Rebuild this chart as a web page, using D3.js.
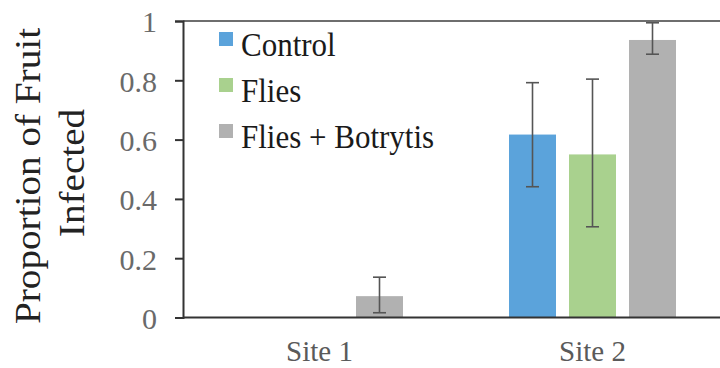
<!DOCTYPE html>
<html><head><meta charset="utf-8">
<script src="https://cdn.jsdelivr.net/npm/d3@7"></script>
<style>html,body{margin:0;padding:0;background:#fff;}svg{display:block;}
svg text{font-family:"Liberation Serif","Times New Roman",Times,"Nimbus Roman","DejaVu Serif",serif;}
</style>
</head><body>
<svg id="chart" width="720" height="368"></svg>
<script>
const sites = ["Site 1", "Site 2"];
const treatments = ["Control", "Flies", "Flies + Botrytis"];
const colors = ["#5ba3db", "#a9d18e", "#b1b1b1"];
const controlValues = [0, 0.617];
const fliesValues = [0, 0.550];
const botrytisValues = [0.072, 0.936];
const controlErrLow = [0, 0.441];
const controlErrHigh = [0, 0.792];
const fliesErrLow = [0, 0.306];
const fliesErrHigh = [0, 0.804];
const botrytisErrLow = [0.016, 0.888];
const botrytisErrHigh = [0.136, 0.994];
const yTicks = [0, 0.2, 0.4, 0.6, 0.8, 1];
const yTickLabels = ["0", "0.2", "0.4", "0.6", "0.8", "1"];

const values = [controlValues, fliesValues, botrytisValues];
const lows = [controlErrLow, fliesErrLow, botrytisErrLow];
const highs = [controlErrHigh, fliesErrHigh, botrytisErrHigh];

const svg = d3.select("#chart");
const x0 = 183, x1 = 729, yTop = 21, yBot = 317.5;
const x = d3.scaleBand().domain(sites).range([x0, x1]);
const y = d3.scaleLinear().domain([0, 1]).range([yBot, yTop]);
const barW = 47, gap = 13;
const offset = i => (i - 1) * (barW + gap);

const data = [];
sites.forEach((s, si) => treatments.forEach((t, ti) => {
  data.push({site: s, ti, v: values[ti][si], lo: lows[ti][si], hi: highs[ti][si]});
}));

// bars
svg.append("g").selectAll("rect").data(data.filter(d => d.v > 0)).join("rect")
  .attr("x", d => x(d.site) + x.bandwidth() / 2 + offset(d.ti) - barW / 2)
  .attr("y", d => y(d.v))
  .attr("width", barW)
  .attr("height", d => y(0) - y(d.v))
  .attr("fill", d => colors[d.ti]);

// error bars
const eb = svg.append("g").attr("stroke", "#555").attr("stroke-width", 1.6).attr("fill", "none");
data.filter(d => d.hi > 0).forEach(d => {
  const cx = x(d.site) + x.bandwidth() / 2 + offset(d.ti);
  eb.append("line").attr("x1", cx).attr("x2", cx).attr("y1", y(d.lo)).attr("y2", y(d.hi));
  eb.append("line").attr("x1", cx - 6.5).attr("x2", cx + 6.5).attr("y1", y(d.hi)).attr("y2", y(d.hi));
  eb.append("line").attr("x1", cx - 6.5).attr("x2", cx + 6.5).attr("y1", y(d.lo)).attr("y2", y(d.lo));
});

// top line
svg.append("line").attr("x1", x0).attr("x2", 720).attr("y1", y(1)).attr("y2", y(1))
  .attr("stroke", "#6e6e6e").attr("stroke-width", 2);

// y axis
const yAxis = d3.axisLeft(y).tickValues(yTicks).tickFormat((d, i) => yTickLabels[i]).tickSize(8).tickPadding(18);
const ga = svg.append("g").attr("transform", `translate(${x0},0)`).call(yAxis);
ga.attr("font-family", null);
ga.select(".domain").attr("stroke", "#333").attr("stroke-width", 2);
ga.selectAll(".tick line").attr("stroke", "#333").attr("stroke-width", 2);
ga.selectAll(".tick text").attr("font-size", 30).attr("fill", "#6a6a6a").attr("dy", "0.36em");

// x axis line
svg.append("line").attr("x1", x0).attr("x2", 720).attr("y1", yBot).attr("y2", yBot)
  .attr("stroke", "#333").attr("stroke-width", 2);

// x labels
svg.append("g").selectAll("text").data(sites).join("text")
  .attr("x", d => x(d) + x.bandwidth() / 2).attr("y", 361)
  .attr("text-anchor", "middle")
  .attr("font-size", 29).attr("fill", "#5a5a5a").text(d => d);

// y title
svg.append("text").attr("transform", "translate(40,176) scale(1,1.12) rotate(-90)")
  .attr("text-anchor", "middle").attr("font-size", 35)
  .attr("fill", "#222").text("Proportion of Fruit");
svg.append("text").attr("transform", "translate(84,173) scale(1,1.12) rotate(-90)")
  .attr("text-anchor", "middle").attr("font-size", 35)
  .attr("fill", "#222").text("Infected");

// legend
const lg = svg.append("g");
treatments.forEach((t, i) => {
  lg.append("rect").attr("x", 219).attr("y", 32 + i * 46).attr("width", 14).attr("height", 14).attr("fill", colors[i]);
  lg.append("text").attr("transform", `translate(241,${56 + i * 46}) scale(1,1.12)`)
    .attr("font-size", 31).attr("fill", "#1a1a1a").text(t);
});
</script>
</body></html>
